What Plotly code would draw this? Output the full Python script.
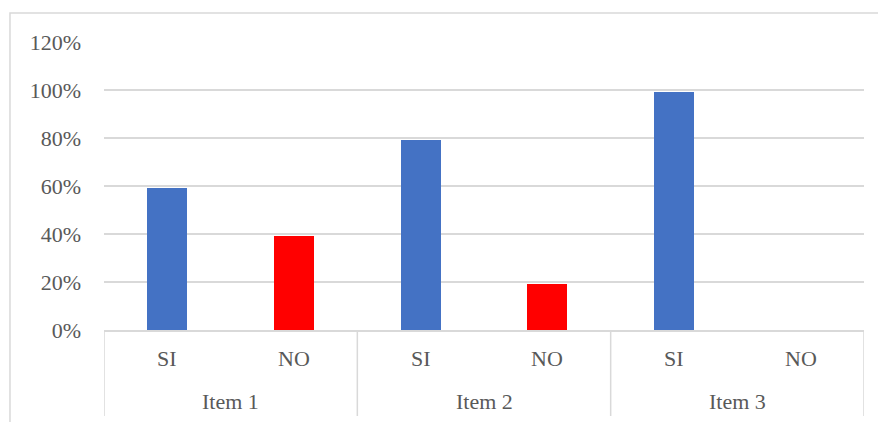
import plotly.graph_objects as go

items = ["Item 1", "Item 2", "Item 3"]
answers = ["SI", "NO"]
si_values = [0.59, 0.79, 0.99]
no_values = [0.39, 0.19, 0.0]
y_ticks = [0, 0.2, 0.4, 0.6, 0.8, 1.0, 1.2]
y_labels = ["0%", "20%", "40%", "60%", "80%", "100%", "120%"]

colors = {"SI": "#4472C4", "NO": "#FF0000"}
FONT = "Liberation Serif, Times New Roman, serif"
TXT = "#595959"
GRID = "#D9D9D9"

xs, ys, cs, sub = [], [], [], []
for i, item in enumerate(items):
    vals = {"SI": si_values[i], "NO": no_values[i]}
    for j, a in enumerate(answers):
        xs.append(i * len(answers) + j)
        ys.append(vals[a])
        cs.append(colors[a])
        sub.append(a)

fig = go.Figure(go.Bar(x=xs, y=ys, marker_color=cs, marker_line_width=0,
                       width=0.316, hoverinfo="y"))

n = len(xs)
shapes = []
annotations = []
# outer chart border
shapes.append(dict(type="rect", xref="paper", yref="paper",
                   x0=-0.1237, x1=1.05, y0=-0.4, y1=1.1007,
                   line=dict(color=GRID, width=1.5), layer="below"))
# group dividers
for g in range(len(items) + 1):
    xb = g * len(answers) - 0.5
    shapes.append(dict(type="line", xref="x", yref="paper", x0=xb, x1=xb,
                       y0=0, y1=-0.2986, line=dict(color=GRID, width=1.5)))
# sub labels
for x, a in zip(xs, sub):
    annotations.append(dict(x=x, y=-0.10, xref="x", yref="paper", text=a,
                            showarrow=False, yanchor="middle",
                            font=dict(family=FONT, size=22, color=TXT)))
# group labels
for i, item in enumerate(items):
    xc = i * len(answers) + (len(answers) - 1) / 2
    annotations.append(dict(x=xc, y=-0.248, xref="x", yref="paper", text=item,
                            showarrow=False, yanchor="middle",
                            font=dict(family=FONT, size=22, color=TXT)))

fig.update_layout(
    width=878, height=422,
    margin=dict(l=104, r=14, t=42, b=92),
    paper_bgcolor="white", plot_bgcolor="white",
    showlegend=False,
    shapes=shapes, annotations=annotations,
    bargap=0,
    xaxis=dict(range=[-0.5, n - 0.5], showticklabels=False, showgrid=False,
               zeroline=False, showline=True, linecolor=GRID, linewidth=1.5,
               ticks=""),
    yaxis=dict(range=[0, 1.2], tickvals=y_ticks, ticktext=y_labels,
               showgrid=True, gridcolor=GRID, gridwidth=1.5, zeroline=False,
               showline=False, ticks="", ticklabelstandoff=22,
               tickfont=dict(family=FONT, size=22, color=TXT)),
)

fig.write_html("out.html")
